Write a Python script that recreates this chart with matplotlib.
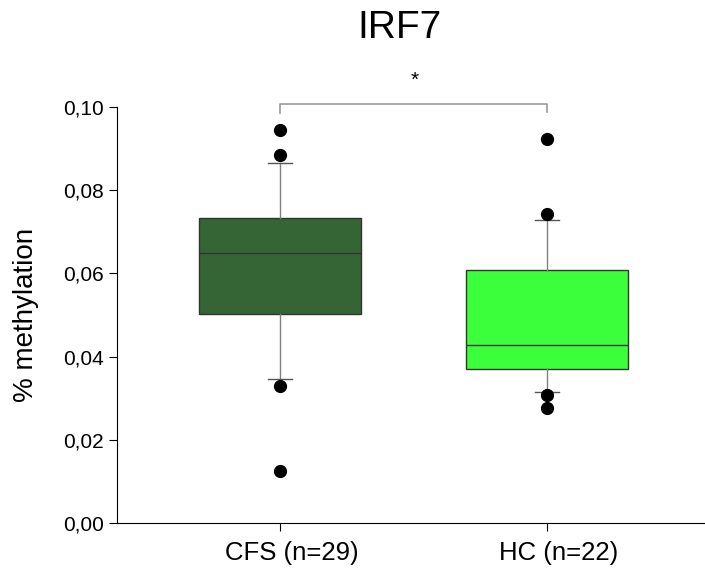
import matplotlib.pyplot as plt
import matplotlib.transforms as mtransforms
from matplotlib.ticker import FuncFormatter

plt.rcParams['font.family'] = ['Liberation Sans', 'DejaVu Sans']

groups = ['CFS (n=29)', 'HC (n=22)']
colors = ['#356535', '#3bff3a']

# box statistics
q1 = [0.0502, 0.0370]
med = [0.0649, 0.0428]
q3 = [0.0733, 0.0608]
whislo = [0.0346, 0.0315]
whishi = [0.0865, 0.0729]
fliers = [[0.0945, 0.0885, 0.0329, 0.0125],
          [0.0923, 0.0743, 0.0308, 0.0276]]

stats = []
for i in range(2):
    stats.append({'q1': q1[i], 'med': med[i], 'q3': q3[i],
                  'whislo': whislo[i], 'whishi': whishi[i],
                  'fliers': fliers[i], 'label': groups[i]})

fig = plt.figure(figsize=(7.05, 5.73), dpi=100)
ax = fig.add_axes([0.166, 0.0873, 0.834, 0.808])

bp = ax.bxp(stats, positions=[1, 2], widths=0.607, patch_artist=True,
            capwidths=0.087, showfliers=True,
            boxprops=dict(edgecolor='#333333', linewidth=1.0),
            medianprops=dict(color='#333333', linewidth=1.0),
            whiskerprops=dict(color='#808080', linewidth=1.0),
            capprops=dict(color='#555555', linewidth=1.0),
            flierprops=dict(marker='o', markerfacecolor='black',
                            markeredgecolor='black', markersize=8.5))
for patch, c in zip(bp['boxes'], colors):
    patch.set_facecolor(c)

# significance bracket
ax.plot([1, 1, 2, 2], [0.0986, 0.1007, 0.1007, 0.0988], color='#999999', lw=1.2, clip_on=False)
ax.text(1.505, 0.1065, '*', ha='center', va='center', fontsize=15)

ax.set_xlim(0.3895, 2.5918)
ax.set_ylim(0, 0.1113)
ax.set_yticks([0, 0.02, 0.04, 0.06, 0.08, 0.10])
ax.yaxis.set_major_formatter(FuncFormatter(lambda v, p: f'{v:.2f}'.replace('.', ',')))
ax.spines['top'].set_visible(False)
ax.spines['right'].set_visible(False)
ax.spines['left'].set_bounds(0, 0.10)
ax.tick_params(direction='out', length=6, labelsize=15)
ax.tick_params(axis='x', labelsize=18.5, pad=7)
# labels sit a little right of their ticks in the original
shift = mtransforms.ScaledTranslation(12 / 100, 0, fig.dpi_scale_trans)
for lbl in ax.get_xticklabels():
    lbl.set_transform(lbl.get_transform() + shift)
ax.set_ylabel('% methylation', fontsize=20)
ax.yaxis.set_label_coords(-0.133, 0.449)
ax.set_title('IRF7', fontsize=28, pad=16, x=0.48)

plt.savefig('out.png', dpi=100)
